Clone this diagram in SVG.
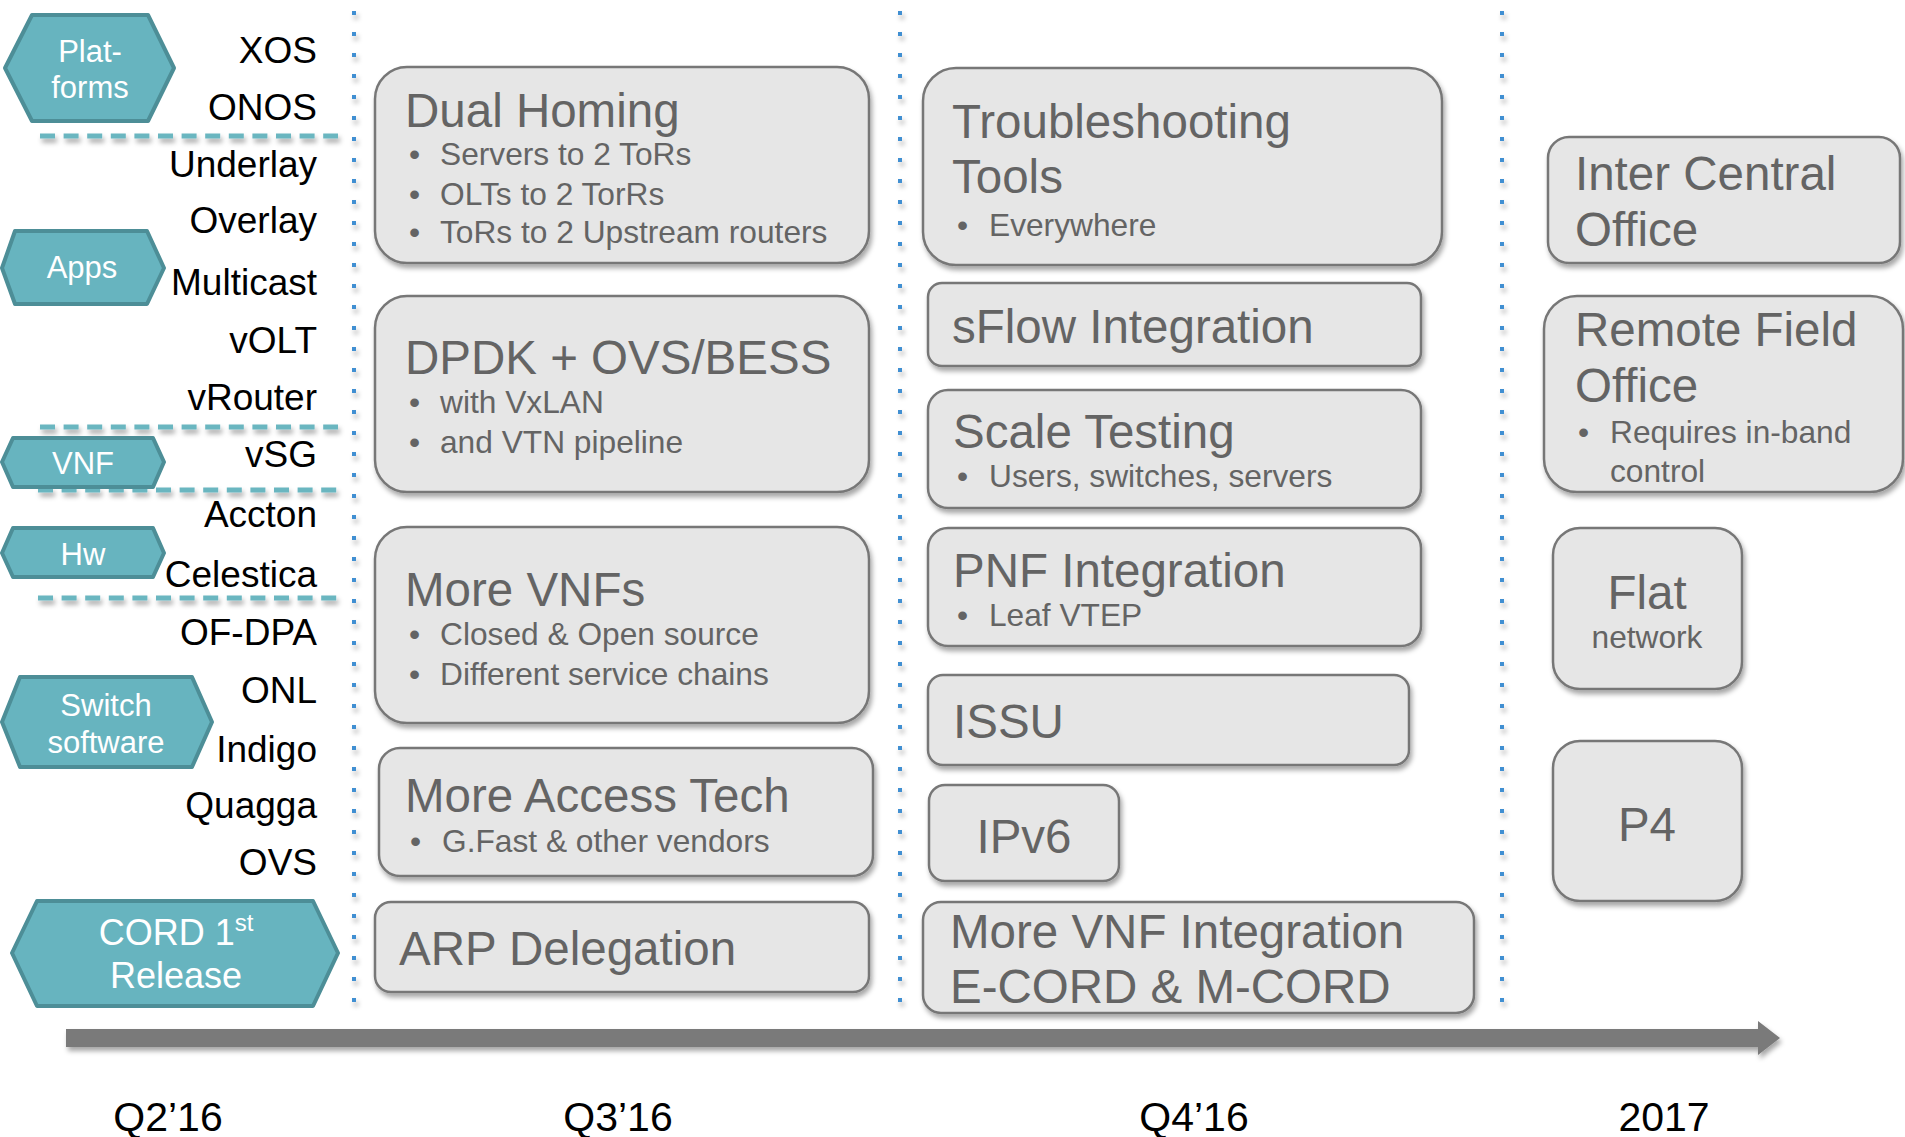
<svg xmlns="http://www.w3.org/2000/svg" width="1905" height="1137" viewBox="0 0 1905 1137">
  <defs>
    <filter id="shadow" filterUnits="userSpaceOnUse" x="0" y="0" width="1905" height="1137">
      <feDropShadow dx="2" dy="4" stdDeviation="2.5" flood-color="#000" flood-opacity="0.35"/>
    </filter>
    <style>
      .lbl { font-family: "Liberation Sans", Arial, sans-serif; font-size: 37px; fill: #000; text-anchor: end; }
      .hex { fill: #67b4bf; stroke: #4d8e97; stroke-width: 4; stroke-linejoin: round; }
      .hext { font-family: "Liberation Sans", Arial, sans-serif; font-size: 31px; fill: #fff; text-anchor: middle; }
      .sep { stroke: #6ab6c0; stroke-width: 5; stroke-dasharray: 15 8.6; fill: none; }
      .qline { stroke: #3f8fd2; stroke-width: 4; stroke-dasharray: 4 17; fill: none; }
      .box { fill: #e6e6e6; stroke: #777; stroke-width: 2.5; }
      .t { font-family: "Liberation Sans", Arial, sans-serif; font-size: 47.5px; fill: #646464; }
      .b { font-family: "Liberation Sans", Arial, sans-serif; font-size: 31.7px; fill: #646464; }
      .mid { text-anchor: middle; }
      .axis { font-family: "Liberation Sans", Arial, sans-serif; font-size: 41px; fill: #000; text-anchor: middle; }
    </style>
  </defs>

  <rect width="1905" height="1137" fill="#fff"/>

  <!-- quarter boundaries -->
  <g id="quarter-lines" filter="url(#shadow)">
    <line class="qline" x1="354" y1="11" x2="354" y2="1018"/>
    <line class="qline" x1="900" y1="11" x2="900" y2="1018"/>
    <line class="qline" x1="1502" y1="11" x2="1502" y2="1018"/>
  </g>

  <!-- category separators -->
  <g id="separators" filter="url(#shadow)">
    <line class="sep" x1="40" y1="136" x2="338" y2="136"/>
    <line class="sep" x1="40" y1="427" x2="338" y2="427"/>
    <line class="sep" x1="38" y1="490" x2="337" y2="490"/>
    <line class="sep" x1="38" y1="598" x2="337" y2="598"/>
  </g>

  <!-- category tags -->
  <g id="tag-platforms">
    <polygon class="hex" points="5,68 32,15 148,15 174,68 148,121 32,121"/>
    <text class="hext" x="90" y="62">Plat-</text>
    <text class="hext" x="90" y="98">forms</text>
  </g>
  <g id="tag-apps">
    <polygon class="hex" points="2,268 15,231 147,231 164,268 147,304 15,304"/>
    <text class="hext" x="82" y="278">Apps</text>
  </g>
  <g id="tag-vnf">
    <polygon class="hex" points="2,462 13,438 153,438 164,462 153,487 13,487"/>
    <text class="hext" x="83" y="474">VNF</text>
  </g>
  <g id="tag-hw">
    <polygon class="hex" points="2,553 13,528 153,528 164,553 153,577 13,577"/>
    <text class="hext" x="83" y="565">Hw</text>
  </g>
  <g id="tag-switch-software">
    <polygon class="hex" points="2,722 20,677 192,677 212,722 192,767 20,767"/>
    <text class="hext" x="106" y="716">Switch</text>
    <text class="hext" x="106" y="753">software</text>
  </g>
  <g id="tag-cord-release">
    <polygon class="hex" points="12,953 37,901 313,901 338,953 313,1006 37,1006"/>
    <text class="hext" x="176" y="945" style="font-size:36px">CORD 1<tspan dy="-14" style="font-size:24px">st</tspan></text>
    <text class="hext" x="176" y="988" style="font-size:36px">Release</text>
  </g>

  <!-- component list -->
  <g id="components">
    <text class="lbl" x="317" y="63">XOS</text>
    <text class="lbl" x="317" y="120">ONOS</text>
    <text class="lbl" x="317" y="177">Underlay</text>
    <text class="lbl" x="317" y="233">Overlay</text>
    <text class="lbl" x="317" y="295">Multicast</text>
    <text class="lbl" x="317" y="353">vOLT</text>
    <text class="lbl" x="317" y="410">vRouter</text>
    <text class="lbl" x="317" y="467">vSG</text>
    <text class="lbl" x="317" y="527">Accton</text>
    <text class="lbl" x="317" y="587">Celestica</text>
    <text class="lbl" x="317" y="645">OF-DPA</text>
    <text class="lbl" x="317" y="703">ONL</text>
    <text class="lbl" x="317" y="762">Indigo</text>
    <text class="lbl" x="317" y="818">Quagga</text>
    <text class="lbl" x="317" y="875">OVS</text>
  </g>

  <!-- Q3'16 -->
  <g id="dual-homing">
    <rect class="box" x="375" y="67" width="494" height="196" rx="32" filter="url(#shadow)"/>
    <text class="t" x="405" y="127">Dual Homing</text>
    <text class="b" x="409" y="165">•</text><text class="b" x="440" y="165">Servers to 2 ToRs</text>
    <text class="b" x="409" y="205">•</text><text class="b" x="440" y="205">OLTs to 2 TorRs</text>
    <text class="b" x="409" y="243">•</text><text class="b" x="440" y="243">ToRs to 2 Upstream routers</text>
  </g>
  <g id="dpdk">
    <rect class="box" x="375" y="296" width="494" height="196" rx="32" filter="url(#shadow)"/>
    <text class="t" x="405" y="374">DPDK + OVS/BESS</text>
    <text class="b" x="409" y="413">•</text><text class="b" x="440" y="413">with VxLAN</text>
    <text class="b" x="409" y="453">•</text><text class="b" x="440" y="453">and VTN pipeline</text>
  </g>
  <g id="more-vnfs">
    <rect class="box" x="375" y="527" width="494" height="196" rx="32" filter="url(#shadow)"/>
    <text class="t" x="405" y="606">More VNFs</text>
    <text class="b" x="409" y="645">•</text><text class="b" x="440" y="645">Closed &amp; Open source</text>
    <text class="b" x="409" y="685">•</text><text class="b" x="440" y="685">Different service chains</text>
  </g>
  <g id="more-access-tech">
    <rect class="box" x="379" y="748" width="494" height="128" rx="21" filter="url(#shadow)"/>
    <text class="t" x="405" y="812">More Access Tech</text>
    <text class="b" x="410" y="852">•</text><text class="b" x="442" y="852">G.Fast &amp; other vendors</text>
  </g>
  <g id="arp-delegation">
    <rect class="box" x="375" y="902" width="494" height="90" rx="16" filter="url(#shadow)"/>
    <text class="t" x="399" y="965">ARP Delegation</text>
  </g>

  <!-- Q4'16 -->
  <g id="troubleshooting">
    <rect class="box" x="923" y="68" width="519" height="197" rx="33" filter="url(#shadow)"/>
    <text class="t" x="952" y="138">Troubleshooting</text>
    <text class="t" x="952" y="193">Tools</text>
    <text class="b" x="957" y="236">•</text><text class="b" x="989" y="236">Everywhere</text>
  </g>
  <g id="sflow">
    <rect class="box" x="928" y="283" width="493" height="83" rx="14" filter="url(#shadow)"/>
    <text class="t" x="952" y="343">sFlow Integration</text>
  </g>
  <g id="scale-testing">
    <rect class="box" x="928" y="390" width="493" height="118" rx="20" filter="url(#shadow)"/>
    <text class="t" x="953" y="448">Scale Testing</text>
    <text class="b" x="957" y="487">•</text><text class="b" x="989" y="487">Users, switches, servers</text>
  </g>
  <g id="pnf-integration">
    <rect class="box" x="928" y="528" width="493" height="118" rx="20" filter="url(#shadow)"/>
    <text class="t" x="953" y="587">PNF Integration</text>
    <text class="b" x="957" y="626">•</text><text class="b" x="989" y="626">Leaf VTEP</text>
  </g>
  <g id="issu">
    <rect class="box" x="928" y="675" width="481" height="90" rx="15" filter="url(#shadow)"/>
    <text class="t" x="953" y="738">ISSU</text>
  </g>
  <g id="ipv6">
    <rect class="box" x="929" y="785" width="190" height="96" rx="16" filter="url(#shadow)"/>
    <text class="t mid" x="1024" y="853">IPv6</text>
  </g>
  <g id="more-vnf-integration">
    <rect class="box" x="923" y="902" width="551" height="111" rx="18" filter="url(#shadow)"/>
    <text class="t" x="950" y="948">More VNF Integration</text>
    <text class="t" x="950" y="1003">E-CORD &amp; M-CORD</text>
  </g>

  <!-- 2017 -->
  <g id="inter-central-office">
    <rect class="box" x="1548" y="137" width="352" height="126" rx="21" filter="url(#shadow)"/>
    <text class="t" x="1575" y="190">Inter Central</text>
    <text class="t" x="1575" y="246">Office</text>
  </g>
  <g id="remote-field-office">
    <rect class="box" x="1544" y="296" width="359" height="196" rx="33" filter="url(#shadow)"/>
    <text class="t" x="1575" y="346">Remote Field</text>
    <text class="t" x="1575" y="402">Office</text>
    <text class="b" x="1578" y="443">•</text><text class="b" x="1610" y="443">Requires in-band</text>
    <text class="b" x="1610" y="482">control</text>
  </g>
  <g id="flat-network">
    <rect class="box" x="1553" y="528" width="189" height="161" rx="27" filter="url(#shadow)"/>
    <text class="t mid" x="1647" y="609">Flat</text>
    <text class="b mid" x="1647" y="648">network</text>
  </g>
  <g id="p4">
    <rect class="box" x="1553" y="741" width="189" height="160" rx="27" filter="url(#shadow)"/>
    <text class="t mid" x="1647" y="841">P4</text>
  </g>

  <!-- time axis -->
  <g id="connectors" filter="url(#shadow)">
    <path d="M66,1029 H1758 V1021 L1780,1038 L1758,1055 V1047 H66 Z" fill="#7a7a7a"/>
  </g>
  <g id="axis-labels">
    <text class="axis" x="168" y="1131">Q2’16</text>
    <text class="axis" x="618" y="1131">Q3’16</text>
    <text class="axis" x="1194" y="1131">Q4’16</text>
    <text class="axis" x="1664" y="1131">2017</text>
  </g>
</svg>
